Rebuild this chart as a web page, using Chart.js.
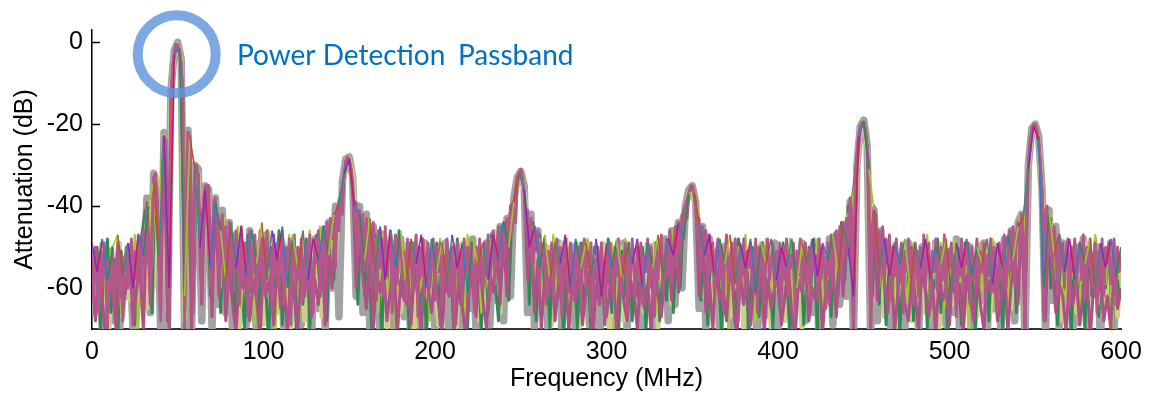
<!DOCTYPE html>
<html>
<head>
<meta charset="utf-8">
<script src="https://cdn.jsdelivr.net/npm/chart.js@4.4.1/dist/chart.umd.min.js"></script>
<style>
  html, body { margin: 0; padding: 0; background: #fff; }
  #wrap { width: 1154px; height: 396px; position: relative; }
</style>
</head>
<body>
<div id="wrap"><canvas id="chart"></canvas></div>
<script>
// axis ticks
const xTicks = [0, 100, 200, 300, 400, 500, 600];
const yTicks = [-60, -40, -20, 0];

// frequency grids (MHz)
const makeGrid = (start, step, end) => {
  const out = [];
  for (let f = start; f <= end; f += step) out.push(f);
  return out;
};
const freqFine = makeGrid(0, 1, 600);
const freqEven = makeGrid(0, 2, 600);
const freqOdd = makeGrid(1, 2, 599);
const freqTri = makeGrid(0, 3, 600);

// attenuation (dB)
const pinkTrace = [
  -52,-63,-50,-58,-66,-51,-60,-49,-57,-70,-53,-61,-50,-64,-55,-49,-62,-52,-68,-54,
  -50,-60,-53,-48,-63,-51,-58,-47,-50,-60,-46,-55,-39,-48,-62,-45,-33,-32,-36,-55,
  -68,-30,-23,-24,-45,-72,-13,-6,-2,-0.5,-0.5,-2,-5,-12,-70,-40,-22,-23,-40,-66,
  -32,-30,-34,-55,-62,-38,-35,-35,-40,-60,-50,-39,-38,-43,-58,-44,-42,-55,-45,-62,
  -44,-56,-47,-61,-46,-52,-64,-45,-58,-49,-55,-67,-46,-60,-50,-47,-63,-54,-46,-59,
  -48,-62,-46,-55,-51,-66,-47,-57,-49,-60,-53,-46,-64,-50,-58,-48,-69,-52,-47,-61,
  -50,-58,-48,-63,-53,-49,-60,-47,-56,-66,-48,-54,-46,-61,-50,-45,-58,-44,-52,-43,
  -48,-42,-55,-40,-46,-37,-42,-33,-29,-28,-29,-31,-36,-44,-39,-52,-41,-48,-42,-56,
  -43,-54,-45,-60,-44,-51,-63,-46,-55,-48,-62,-45,-57,-50,-46,-66,-52,-47,-59,-49,
  -47,-58,-51,-64,-48,-55,-49,-61,-53,-47,-67,-50,-57,-48,-62,-52,-49,-60,-54,-48,
  -63,-50,-56,-49,-65,-52,-58,-48,-54,-61,-50,-70,-53,-49,-59,-51,-64,-48,-56,-50,
  -62,-49,-55,-66,-50,-58,-48,-53,-60,-49,-57,-47,-63,-51,-46,-58,-49,-45,-55,-47,
  -44,-53,-43,-50,-41,-47,-39,-44,-35,-32,-31,-33,-37,-46,-41,-52,-43,-58,-45,-51,
  -46,-60,-49,-55,-48,-64,-51,-57,-49,-62,-53,-48,-59,-50,-67,-52,-48,-56,-61,-49,
  -54,-63,-49,-57,-50,-66,-52,-48,-60,-51,-55,-49,-64,-53,-58,-50,-62,-49,-56,-69,
  -51,-59,-49,-54,-63,-50,-57,-48,-61,-52,-56,-49,-66,-51,-58,-48,-55,-62,-50,-57,
  -49,-64,-52,-56,-48,-60,-50,-55,-67,-49,-58,-51,-47,-61,-53,-48,-57,-46,-59,-50,
  -45,-55,-44,-51,-42,-48,-40,-43,-37,-35,-35,-37,-41,-48,-43,-56,-45,-52,-46,-60,
  -47,-56,-49,-63,-51,-48,-58,-50,-65,-52,-47,-59,-53,-49,-61,-48,-55,-68,-50,-57,
  -48,-62,-51,-55,-49,-60,-53,-48,-66,-50,-57,-49,-63,-52,-48,-58,-54,-49,-61,-51,
  -56,-49,-64,-50,-58,-48,-62,-52,-55,-49,-67,-51,-57,-48,-60,-53,-49,-59,-50,-63,
  -49,-56,-52,-61,-48,-58,-50,-54,-65,-49,-57,-47,-60,-51,-46,-55,-45,-58,-44,-50,
  -43,-52,-38,-41,-68,-34,-28,-23,-20.5,-19.5,-19.5,-21,-25,-31,-70,-45,-40,-44,-55,-46,
  -52,-45,-60,-48,-54,-47,-63,-50,-57,-48,-61,-52,-49,-66,-51,-56,-48,-59,-50,-64,
  -49,-55,-62,-50,-57,-47,-60,-52,-49,-65,-51,-56,-48,-61,-53,-50,-58,-47,-63,-51,
  -55,-49,-60,-52,-67,-50,-57,-48,-62,-51,-54,-49,-64,-50,-58,-53,-48,-60,-51,-56,
  -49,-63,-52,-57,-48,-61,-50,-55,-66,-49,-58,-51,-47,-60,-53,-46,-56,-45,-59,-47,
  -44,-53,-42,-47,-70,-36,-30,-24,-21,-20,-20,-21.5,-24,-30,-37,-68,-41,-40,-52,-43,
  -57,-45,-50,-62,-47,-55,-49,-60,-51,-48,-65,-50,-56,-48,-61,-52,-49,-58,-47,-63,
  -50,-55,-48,-60,-52,-49,-66,-51,-57,-48,-62,-50,-54,-49,-59,-53,-48,-64,-50,-56,
  -52
];

const magentaTrace = [
  -57,-68,-54,-63,-72,-55,-61,-70,-53,-66,-58,-52,-69,-60,-55,-71,-40,-64,-33,-38,
  -66,-23,-68,-13,-2.5,-0.5,-5,-66,-22,-70,-31,-32,-64,-36,-35,-67,-39,-62,-43,-68,
  -55,-64,-71,-56,-60,-52,-68,-58,-63,-72,-54,-61,-57,-69,-53,-65,-59,-71,-55,-62,
  -70,-56,-62,-53,-67,-58,-64,-51,-69,-48,-60,-44,-41,-35,-29,-28.5,-34,-60,-44,-57,
  -65,-52,-70,-57,-61,-55,-68,-60,-53,-72,-58,-63,-54,-69,-56,-62,-71,-55,-60,-66,
  -56,-64,-71,-58,-62,-54,-69,-57,-65,-72,-55,-60,-67,-53,-63,-70,-56,-61,-50,-64,
  -48,-62,-40,-39,-33,-31.5,-36,-58,-46,-66,-53,-70,-57,-62,-55,-68,-59,-64,-54,-71,
  -58,-63,-55,-69,-61,-56,-72,-59,-64,-54,-67,-60,-57,-71,-55,-63,-68,-58,-62,-70,
  -56,-65,-59,-71,-54,-62,-67,-57,-52,-63,-49,-61,-45,-40,-37,-35.5,-39,-62,-48,-66,
  -58,-70,-55,-63,-60,-68,-54,-61,-72,-57,-64,-56,-69,-59,-62,-55,-71,-58,-65,-60,
  -57,-69,-62,-55,-66,-72,-58,-61,-54,-68,-60,-63,-56,-71,-59,-64,-55,-67,-51,-62,
  -47,-41,-70,-30.5,-21,-19.5,-25.5,-70,-42,-63,-50,-58,-66,-55,-71,-60,-56,-64,-68,-57,
  -62,-70,-55,-61,-67,-58,-72,-56,-63,-60,-69,-54,-65,-59,-71,-57,-62,-68,-55,-64,
  -70,-58,-61,-56,-68,-63,-55,-71,-59,-52,-64,-42,-70,-30.5,-21.5,-20.5,-23.5,-36,-68,-42,
  -55,-66,-59,-62,-71,-56,-64,-58,-69,-61,-55,-72,-60,-63,-57,-68,-62,-70,-56,-65,
  -60
];

const grayTrace = [
  -55,-66,-52,-70,-58,-51,-68,-56,-72,-53,-62,-50,-71,-55,-49,-64,-38,-66,-32,-35,
  -70,-22,-70,-12,-2,0,-4,-71,-21.5,-72,-30,-31,-68,-35,-36,-70,-38,-64,-41,-66,
  -44,-72,-47,-60,-50,-69,-46,-58,-71,-49,-63,-47,-70,-52,-61,-48,-73,-55,-50,-66,
  -53,-69,-50,-62,-72,-48,-65,-46,-70,-44,-60,-40,-67,-34,-28.5,-28,-33,-62,-40,-66,
  -42,-70,-45,-58,-72,-47,-63,-49,-71,-52,-48,-67,-55,-73,-50,-61,-70,-49,-64,-53,
  -71,-51,-66,-49,-73,-56,-62,-50,-70,-53,-65,-48,-72,-55,-60,-49,-69,-47,-63,-45,
  -68,-43,-62,-38,-33,-31.5,-35,-66,-42,-70,-46,-64,-50,-72,-52,-61,-49,-70,-55,-66,
  -50,-73,-56,-63,-49,-69,-53,-60,-72,-51,-66,-50,-71,-57,-62,-49,-70,-54,-65,-51,
  -72,-55,-63,-50,-70,-53,-61,-48,-68,-46,-64,-44,-60,-40,-36,-35,-39,-65,-45,-70,
  -48,-62,-52,-72,-50,-66,-55,-71,-49,-63,-53,-70,-51,-60,-73,-50,-67,-54,-62,-49,
  -70,-53,-64,-50,-72,-56,-61,-49,-68,-52,-66,-50,-73,-55,-62,-48,-69,-47,-64,-45,
  -62,-39,-72,-30,-20.5,-19,-25,-72,-41,-68,-46,-63,-51,-72,-50,-65,-53,-70,-49,-61,
  -52,-71,-50,-64,-55,-73,-49,-62,-53,-69,-51,-66,-48,-72,-56,-60,-50,-70,-54,-63,
  -49,-71,-52,-65,-50,-72,-48,-63,-46,-68,-44,-42,-72,-30,-21,-20,-23,-36,-71,-41,
  -63,-45,-70,-49,-62,-52,-72,-50,-65,-48,-69,-53,-61,-50,-73,-51,-64,-49,-70,-52,
  -60
];

const khakiTrace = [
  -58,-51,-66,-54,-62,-70,-53,-60,-49,-67,-56,-63,-52,-69,-57,-50,-65,-39,-60,-33,
  -62,-23,-66,-13,-2.5,-0.5,-4.5,-68,-22.5,-64,-31,-32,-60,-36,-37,-62,-39,-57,-43,-60,
  -46,-63,-55,-70,-49,-58,-67,-52,-61,-48,-69,-54,-59,-50,-66,-57,-49,-64,-71,-53,
  -60,-51,-68,-55,-49,-63,-52,-67,-47,-58,-45,-53,-39,-36,-30,-28.5,-32,-45,-55,-43,
  -58,-46,-67,-53,-60,-48,-70,-55,-62,-50,-66,-57,-49,-63,-71,-52,-59,-68,-51,-61,
  -55,-69,-50,-62,-57,-52,-72,-58,-49,-65,-54,-60,-51,-68,-56,-63,-50,-59,-46,-66,
  -45,-58,-42,-40,-34,-32,-36,-44,-60,-47,-63,-52,-57,-50,-69,-55,-61,-49,-66,-53,
  -59,-51,-70,-56,-62,-50,-67,-54,-58,-49,-64,-71,-53,-60,-50,-68,-55,-63,-52,-57,
  -50,-66,-54,-61,-49,-70,-56,-59,-48,-64,-47,-57,-43,-41,-37,-36,-40,-50,-62,-47,
  -56,-69,-51,-60,-54,-49,-67,-58,-63,-50,-71,-55,-59,-52,-65,-49,-61,-57,-70,-53,
  -60,-50,-68,-55,-62,-51,-58,-70,-53,-64,-49,-61,-56,-67,-50,-59,-54,-63,-48,-57,
  -44,-40,-64,-31,-21.5,-20,-26,-66,-43,-55,-48,-67,-56,-61,-49,-70,-57,-62,-51,-68,
  -54,-59,-50,-66,-57,-62,-49,-71,-55,-60,-52,-64,-58,-50,-69,-53,-61,-56,-67,-51,
  -60,-53,-66,-49,-62,-55,-58,-50,-65,-48,-56,-43,-66,-31,-22,-21,-24,-37,-63,-42,
  -47,-58,-52,-68,-55,-61,-50,-66,-57,-63,-49,-70,-54,-59,-51,-65,-56,-62,-50,-67,
  -55
];

const greenTrace = [
  -60,-50,-70,-56,-48,-66,-53,-72,-51,-62,-57,-49,-69,-54,-47,-41,-43,-66,-32.5,-55,
  -28,-24,-70,-6,-0.5,-2,-12,-60,-23,-64,-30,-45,-40,-35,-62,-40,-42,-66,-45,-58,
  -46,-67,-49,-55,-71,-47,-61,-52,-68,-48,-58,-73,-50,-63,-46,-69,-54,-60,-49,-70,
  -51,-64,-48,-70,-55,-47,-62,-45,-68,-43,-58,-41,-37,-33,-28,-30.5,-42,-64,-44,-62,
  -45,-70,-47,-56,-72,-48,-60,-51,-67,-46,-62,-53,-71,-49,-58,-66,-50,-73,-52,-61,
  -49,-69,-54,-60,-51,-72,-48,-64,-56,-70,-50,-62,-53,-71,-49,-66,-47,-58,-68,-45,
  -44,-63,-41,-37,-32,-33.5,-40,-64,-44,-68,-47,-59,-51,-70,-49,-63,-55,-72,-50,-61,
  -52,-70,-49,-64,-56,-71,-50,-60,-53,-69,-48,-66,-54,-72,-51,-62,-49,-68,-55,-63,
  -50,-71,-52,-61,-49,-68,-54,-63,-47,-66,-45,-60,-41,-39,-35.5,-36.5,-44,-63,-46,-69,
  -49,-60,-53,-71,-50,-64,-56,-69,-48,-62,-52,-73,-50,-58,-67,-49,-61,-55,-70,-51,
  -65,-49,-58,-71,-52,-63,-50,-69,-55,-61,-48,-72,-53,-60,-50,-67,-47,-62,-44,-58,
  -40,-39,-33,-23,-19.5,-21,-31,-62,-42,-64,-47,-69,-52,-60,-49,-71,-55,-63,-50,-68,
  -51,-62,-49,-70,-54,-60,-48,-66,-52,-73,-50,-61,-55,-69,-49,-64,-53,-71,-50,-59,
  -52,-68,-49,-63,-55,-70,-48,-61,-46,-66,-43,-45,-36,-24,-20.5,-21.5,-30,-66,-41,-60,
  -46,-69,-50,-61,-53,-72,-49,-64,-56,-70,-51,-62,-48,-67,-54,-60,-50,-71,-52,-63
];

const limeTrace = [
  -53,-64,-49,-58,-67,-51,-60,-48,-66,-55,-50,-62,-47,-70,-52,-45,-39,-55,-33,-48,
  -25,-23,-66,-6.5,-1,-2.5,-12.5,-65,-22.5,-58,-30.5,-52,-42,-35.5,-57,-41,-44,-60,-44,-63,
  -48,-57,-45,-65,-51,-60,-47,-69,-54,-49,-62,-46,-58,-70,-50,-55,-64,-47,-61,-52,
  -67,-49,-58,-46,-63,-51,-45,-60,-44,-55,-42,-47,-38,-32,-27.5,-30,-39,-50,-42,-55,
  -44,-59,-48,-66,-46,-55,-62,-47,-70,-51,-58,-49,-64,-53,-47,-61,-56,-49,-68,-52,
  -60,-48,-65,-53,-57,-49,-63,-51,-70,-47,-58,-55,-50,-66,-52,-61,-48,-59,-46,-55,
  -50,-42,-45,-36,-31.5,-33,-39,-50,-45,-60,-48,-66,-53,-57,-47,-62,-51,-59,-48,-69,
  -54,-49,-61,-56,-48,-67,-52,-58,-50,-63,-55,-49,-70,-53,-60,-48,-65,-51,-57,-50,
  -62,-49,-58,-53,-66,-48,-60,-51,-56,-46,-52,-43,-44,-38,-34.5,-36,-41,-52,-47,-58,
  -48,-65,-52,-57,-49,-70,-54,-60,-50,-63,-47,-58,-55,-68,-51,-59,-48,-64,-53,-57,
  -50,-62,-55,-48,-67,-52,-59,-49,-64,-51,-56,-48,-69,-53,-58,-50,-61,-46,-57,-44,
  -42,-40,-34,-22.5,-19,-20.5,-30,-50,-43,-60,-49,-57,-48,-66,-53,-59,-50,-64,-55,-49,
  -62,-50,-58,-47,-68,-54,-60,-49,-65,-52,-57,-48,-63,-55,-50,-70,-53,-59,-49,-61,
  -50,-57,-48,-66,-52,-60,-49,-64,-47,-55,-42,-48,-35,-23.5,-20,-21,-29.5,-52,-41,-47,
  -52,-60,-48,-66,-53,-58,-49,-69,-55,-61,-50,-57,-47,-64,-52,-59,-49,-70,-54,-58
];

// thin multi-coloured trace that makes the ragged tips of the floor
const tipTrace = [
  -49,-56,-48,-58,-50,-47,-57,-49,-60,-47,-52,-40,-34,-52,-23,-60,-3,-1.5,-62,-23,
  -31,-50,-36,-55,-39,-46,-58,-44,-55,-45,-57,-46,-54,-44,-58,-46,-53,-45,-60,-47,
  -55,-46,-58,-48,-53,-45,-52,-42,-40,-32,-28.5,-40,-42,-53,-43,-56,-45,-58,-46,-55,
  -46,-59,-48,-54,-47,-60,-48,-56,-49,-58,-47,-55,-49,-61,-48,-54,-49,-58,-47,-53,
  -44,-50,-39,-32,-36,-50,-45,-55,-47,-58,-49,-54,-47,-60,-48,-55,-49,-57,-48,-62,
  -49,-55,-48,-58,-50,-54,-48,-60,-49,-55,-47,-57,-48,-52,-44,-48,-37,-36.5,-44,-52,
  -47,-57,-48,-54,-47,-59,-49,-55,-48,-61,-49,-54,-48,-58,-50,-55,-48,-60,-49,-54,
  -48,-57,-49,-53,-47,-56,-45,-50,-62,-23,-19.5,-31,-41,-55,-48,-57,-49,-54,-48,-60,
  -49,-55,-48,-58,-50,-54,-48,-61,-49,-55,-48,-57,-50,-54,-48,-59,-49,-55,-47,-53,
  -45,-43,-31,-20.5,-24,-60,-41,-52,-47,-56,-48,-58,-49,-54,-48,-60,-49,-55,-48,-57,
  -50
];
const tipColors = ['#7a2fbf', '#c8186e', '#3c78c8', '#2f8a55', '#9fc82a', '#b0562a', '#3a8a8a'];

const toPoints = (xs, ys) => xs.map((x, i) => ({ x, y: ys[i] }));

// inward tick marks, ring and label
const decor = {
  id: 'decor',
  beforeDatasetsDraw(chart) {
    const { ctx, chartArea, scales } = chart;
    ctx.save();
    ctx.strokeStyle = '#000';
    ctx.lineWidth = 1.5;
    yTicks.forEach(v => {
      const y = Math.round(scales.y.getPixelForValue(v)) + 0.5;
      ctx.beginPath();
      ctx.moveTo(chartArea.left, y);
      ctx.lineTo(chartArea.left + 8, y);
      ctx.stroke();
    });
    ctx.restore();
  },
  afterDatasetsDraw(chart) {
    const { ctx, scales } = chart;
    ctx.save();
    ctx.strokeStyle = 'rgba(96,149,218,0.82)';
    ctx.lineWidth = 10;
    ctx.beginPath();
    ctx.arc(scales.x.getPixelForValue(49.4), scales.y.getPixelForValue(-2.9), 39, 0, Math.PI * 2);
    ctx.stroke();
    ctx.fillStyle = '#0070c0';
    ctx.font = '28px Lato';
    ctx.textBaseline = 'alphabetic';
    ctx.fillText('Power Detection', 237, 65);
    ctx.fillText('Passband', 458, 65);
    ctx.restore();
  }
};

const line = (label, xs, ys, color, width, order) => ({
  label,
  data: toPoints(xs, ys),
  borderColor: color,
  borderWidth: width,
  borderJoinStyle: 'round',
  pointRadius: 0,
  tension: 0,
  clip: 0,
  order
});

const tips = line('tips', freqTri, tipTrace, tipColors[0], 1.6, 0);
tips.segment = { borderColor: c => tipColors[c.p0DataIndex % tipColors.length] };

new Chart(document.getElementById('chart'), {
  type: 'line',
  data: {
    datasets: [
      line('pink', freqFine, pinkTrace, '#b4578b', 2.8, 1),
      tips,
      line('magenta', freqEven, magentaTrace, '#ad5186', 3, 2),
      line('lime', freqOdd, limeTrace, '#a6cc2c', 2.2, 3),
      line('green', freqOdd, greenTrace, '#2f8a55', 2.8, 4),
      line('khaki', freqEven, khakiTrace, '#cfcd88', 4.6, 5),
      line('gray', freqEven, grayTrace, '#a2a2a2', 7.5, 6)
    ]
  },
  options: {
    responsive: true,
    maintainAspectRatio: false,
    animation: false,
    events: [],
    layout: { padding: { top: 30, right: 33, left: 0, bottom: 0 } },
    plugins: { legend: { display: false }, tooltip: { enabled: false } },
    scales: {
      x: {
        type: 'linear',
        min: 0,
        max: 600,
        afterBuildTicks: s => { s.ticks = xTicks.map(v => ({ value: v })); },
        afterFit: s => { s.height = 67; },
        grid: { display: false, drawTicks: false },
        border: { display: true, color: '#333', width: 2 },
        ticks: { padding: 8, color: '#000', maxRotation: 0, font: { family: 'Liberation Sans', size: 25 } },
        title: { display: true, text: 'Frequency (MHz)', color: '#000', padding: { top: 0, bottom: 2 }, font: { family: 'Liberation Sans', size: 25 } }
      },
      y: {
        min: -70,
        max: 3,
        afterBuildTicks: s => { s.ticks = yTicks.map(v => ({ value: v })); },
        afterFit: s => { s.width = 92; },
        grid: { display: false, drawTicks: false },
        border: { display: true, color: '#000', width: 1.5 },
        ticks: { padding: 9, color: '#000', font: { family: 'Liberation Sans', size: 25 } },
        title: { display: true, text: 'Attenuation (dB)', color: '#000', padding: { top: 10, bottom: 0 }, font: { family: 'Liberation Sans', size: 25 } }
      }
    }
  },
  plugins: [decor]
});
</script>
</body>
</html>
